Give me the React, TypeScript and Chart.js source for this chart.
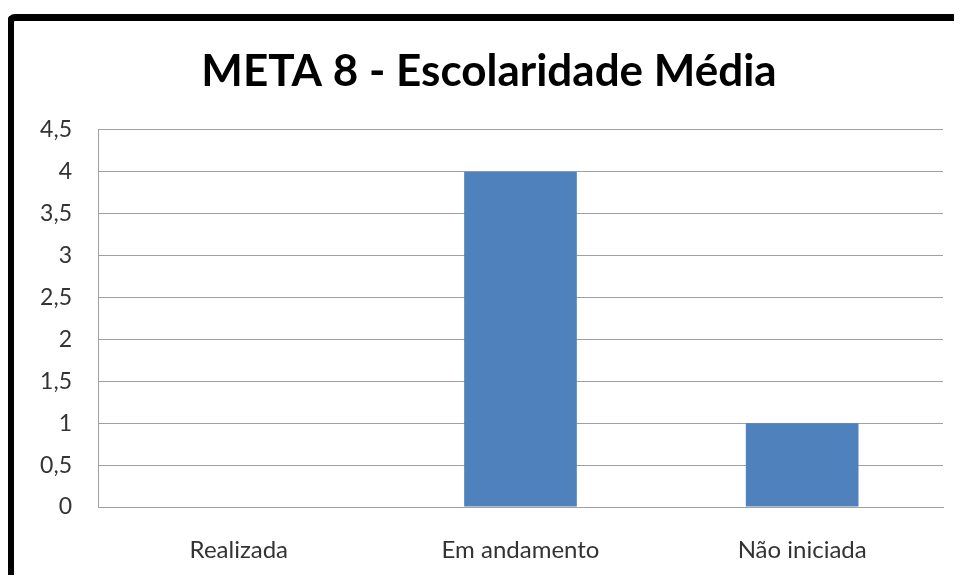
import React, { useEffect, useRef } from "react";
import { Chart, registerables } from "chart.js";

Chart.register(...registerables);

const categories = ["Realizada", "Em andamento", "Não iniciada"];
const values = [0, 4, 1];
const chartTitle = "META 8 - Escolaridade Média";
const yMax = 4.5;
const yStep = 0.5;

export default function App() {
  const ref = useRef<HTMLCanvasElement | null>(null);

  useEffect(() => {
    if (!ref.current) return;
    const chart = new Chart(ref.current, {
      type: "bar",
      data: {
        labels: categories,
        datasets: [
          {
            data: values,
            backgroundColor: "#4F81BD",
            categoryPercentage: 1,
            barPercentage: 0.4,
          },
        ],
      },
      options: {
        animation: false,
        responsive: false,
        maintainAspectRatio: false,
        layout: { padding: { left: 35, right: 19, top: 44, bottom: 0 } },
        plugins: {
          legend: { display: false },
          tooltip: { enabled: false },
          title: {
            display: true,
            text: chartTitle,
            color: "#000",
            font: { family: "Lato", size: 44, weight: "bold", lineHeight: 1.2 },
            padding: { top: 1, bottom: 32 },
          },
        },
        scales: {
          x: {
            grid: { display: false, drawTicks: false },
            border: { display: true, color: "#a0a0a0", width: 1 },
            ticks: {
              color: "#333",
              font: { family: "Lato", size: 24 },
              padding: 29,
              maxRotation: 0,
            },
            afterFit: (s: any) => {
              s.height = 76;
            },
          },
          y: {
            min: 0,
            max: yMax,
            grid: { color: "#a0a0a0", lineWidth: 1, drawTicks: false },
            border: { display: true, color: "#a0a0a0", width: 1 },
            ticks: {
              stepSize: yStep,
              color: "#333",
              padding: 26,
              font: { family: "Lato", size: 23 },
              callback: (v: any) => String(v).replace(".", ","),
            },
            afterFit: (s: any) => {
              s.width = 63;
            },
          },
        },
      },
    });
    return () => chart.destroy();
  }, []);

  return (
    <div style={{ position: "relative", margin: -8, width: 962, height: 583, overflow: "hidden", background: "#fff" }}>
      <div
        style={{
          position: "absolute",
          left: 7,
          top: 14,
          width: 1000,
          height: 700,
          borderTop: "7px solid #000",
          borderLeft: "7px solid #000",
          borderTopLeftRadius: 8,
          boxSizing: "border-box",
        }}
      />
      <canvas ref={ref} width={962} height={583} style={{ position: "absolute", left: 0, top: 0 }} />
    </div>
  );
}
